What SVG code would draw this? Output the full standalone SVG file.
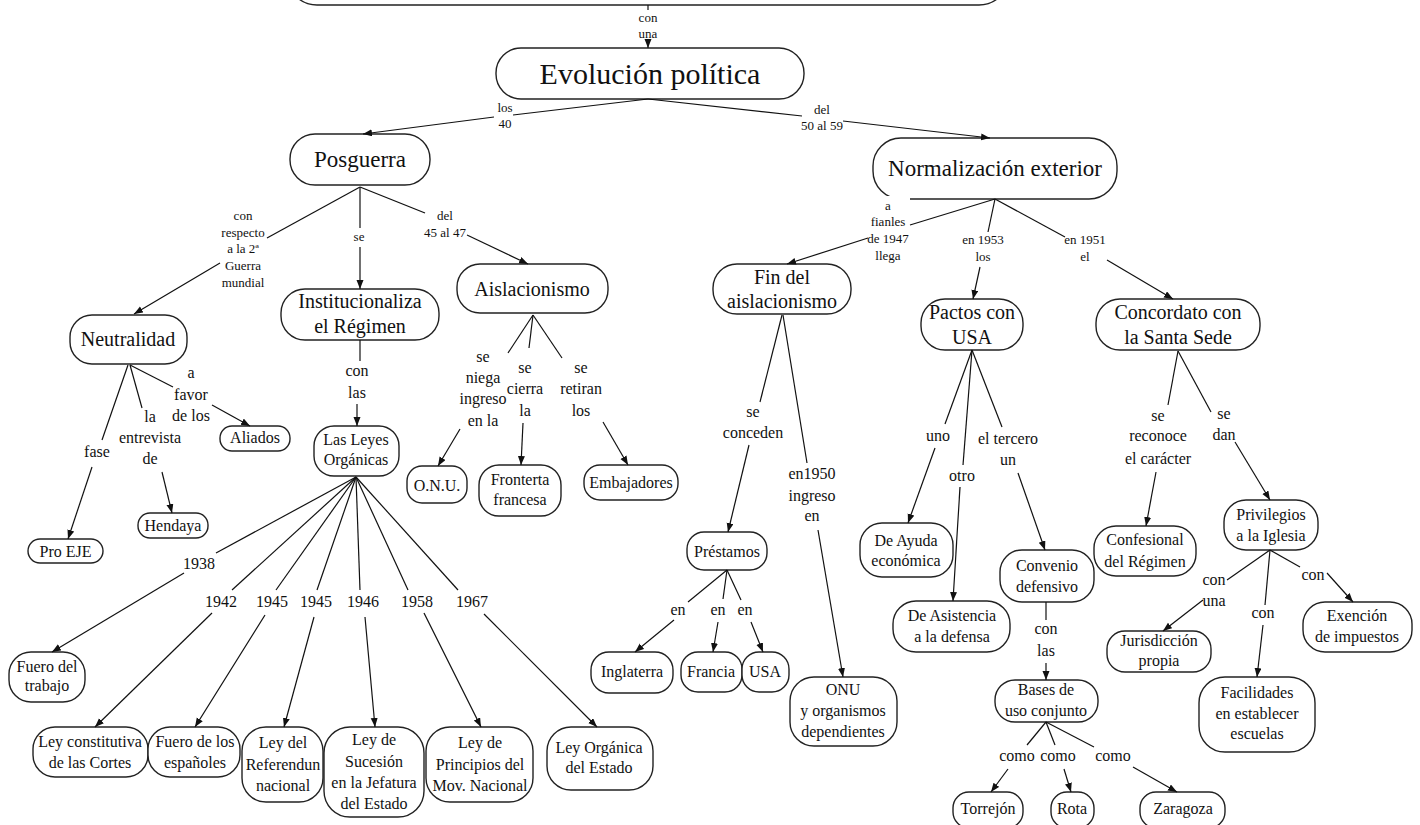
<svg xmlns="http://www.w3.org/2000/svg" width="1420" height="825" viewBox="0 0 1420 825">
<defs>
<marker id="ah" markerUnits="userSpaceOnUse" markerWidth="10" markerHeight="8" refX="9" refY="3.5" orient="auto">
<path d="M0,0 L9,3.5 L0,7 z" fill="#111"/>
</marker>
<style>
.n rect{fill:#fff;stroke:#222;stroke-width:1.4}
text{font-family:"Liberation Serif","Times New Roman",serif;fill:#111;text-anchor:middle}
.f30{font-size:30px}.f23{font-size:23px}.f20{font-size:20px}.f16{font-size:16px}.f13{font-size:13px}
#connectors line{stroke:#111;stroke-width:1.2;fill:none}
#connectors line.a{marker-end:url(#ah)}
.bg{fill:#fff}
</style>
</defs>
<rect width="1420" height="825" fill="#fff"/>

<!-- nodes -->
<g id="n-top" class="n"><rect x="287" y="-70" width="722" height="75" rx="30"/></g>
<g id="n-evolucion" class="n"><rect x="496" y="48" width="308" height="51" rx="25"/><text class="f30" x="650" y="84">Evolución política</text></g>
<g id="n-posguerra" class="n"><rect x="290" y="134" width="140" height="51" rx="25"/><text class="f23" x="360" y="167">Posguerra</text></g>
<g id="n-normalizacion" class="n"><rect x="873" y="138" width="244" height="61" rx="28"/><text class="f23" x="995" y="176">Normalización exterior</text></g>
<g id="n-neutralidad" class="n"><rect x="70" y="315" width="117" height="49" rx="22"/><text class="f20" x="128" y="346">Neutralidad</text></g>
<g id="n-institucionaliza" class="n"><rect x="281" y="289" width="158" height="51" rx="24"/><text class="f20" x="360" y="308">Institucionaliza</text><text class="f20" x="360" y="333">el Régimen</text></g>
<g id="n-aislacionismo" class="n"><rect x="457" y="264" width="151" height="49" rx="23"/><text class="f20" x="532" y="296">Aislacionismo</text></g>
<g id="n-findel" class="n"><rect x="713" y="264" width="138" height="50" rx="24"/><text class="f20" x="782" y="284">Fin del</text><text class="f20" x="782" y="308">aislacionismo</text></g>
<g id="n-pactos" class="n"><rect x="921" y="299" width="102" height="51" rx="24"/><text class="f20" x="972" y="319">Pactos con</text><text class="f20" x="972" y="344">USA</text></g>
<g id="n-concordato" class="n"><rect x="1096" y="299" width="164" height="51" rx="24"/><text class="f20" x="1178" y="319">Concordato con</text><text class="f20" x="1178" y="344">la Santa Sede</text></g>
<g id="n-proeje" class="n"><rect x="28" y="539" width="75" height="24" rx="12"/><text class="f16" x="65.5" y="557">Pro EJE</text></g>
<g id="n-hendaya" class="n"><rect x="138" y="513" width="70" height="25" rx="12"/><text class="f16" x="173" y="531">Hendaya</text></g>
<g id="n-aliados" class="n"><rect x="220" y="426" width="70" height="25" rx="12"/><text class="f16" x="255" y="443">Aliados</text></g>
<g id="n-lasleyes" class="n"><rect x="314" y="426" width="85" height="50" rx="20"/><text class="f16" x="356" y="445">Las Leyes</text><text class="f16" x="356" y="465">Orgánicas</text></g>
<g id="n-onu" class="n"><rect x="407" y="466" width="60" height="37" rx="15"/><text class="f16" x="437" y="491">O.N.U.</text></g>
<g id="n-fronterta" class="n"><rect x="479" y="465" width="82" height="51" rx="20"/><text class="f16" x="520" y="485">Fronterta</text><text class="f16" x="520" y="505">francesa</text></g>
<g id="n-embajadores" class="n"><rect x="584" y="465" width="94" height="35" rx="16"/><text class="f16" x="631" y="488">Embajadores</text></g>
<g id="n-prestamos" class="n"><rect x="687" y="532" width="80" height="38" rx="17"/><text class="f16" x="727" y="557">Préstamos</text></g>
<g id="n-onu-org" class="n"><rect x="790" y="677" width="107" height="69" rx="24"/><text class="f16" x="843" y="695">ONU</text><text class="f16" x="843" y="716">y organismos</text><text class="f16" x="843" y="737">dependientes</text></g>
<g id="n-inglaterra" class="n"><rect x="591" y="652" width="82" height="41" rx="18"/><text class="f16" x="632" y="677">Inglaterra</text></g>
<g id="n-francia" class="n"><rect x="681" y="652" width="61" height="40" rx="17"/><text class="f16" x="711" y="677">Francia</text></g>
<g id="n-usa" class="n"><rect x="742" y="652" width="47" height="40" rx="17"/><text class="f16" x="765" y="677">USA</text></g>
<g id="n-deayuda" class="n"><rect x="860" y="523" width="93" height="54" rx="22"/><text class="f16" x="906" y="546">De Ayuda</text><text class="f16" x="906" y="566">económica</text></g>
<g id="n-deasistencia" class="n"><rect x="893" y="601" width="117" height="51" rx="23"/><text class="f16" x="952" y="621">De Asistencia</text><text class="f16" x="952" y="642">a la defensa</text></g>
<g id="n-convenio" class="n"><rect x="1000" y="550" width="94" height="52" rx="22"/><text class="f16" x="1047" y="571">Convenio</text><text class="f16" x="1047" y="592">defensivo</text></g>
<g id="n-bases" class="n"><rect x="995" y="680" width="103" height="42" rx="20"/><text class="f16" x="1046" y="695">Bases de</text><text class="f16" x="1046" y="716">uso conjunto</text></g>
<g id="n-torrejon" class="n"><rect x="953" y="792" width="70" height="36" rx="16"/><text class="f16" x="988" y="814">Torrejón</text></g>
<g id="n-rota" class="n"><rect x="1051" y="792" width="43" height="36" rx="16"/><text class="f16" x="1072" y="814">Rota</text></g>
<g id="n-zaragoza" class="n"><rect x="1140" y="792" width="85" height="36" rx="16"/><text class="f16" x="1183" y="814">Zaragoza</text></g>
<g id="n-confesional" class="n"><rect x="1094" y="526" width="102" height="50" rx="22"/><text class="f16" x="1145" y="545">Confesional</text><text class="f16" x="1145" y="567">del Régimen</text></g>
<g id="n-privilegios" class="n"><rect x="1224" y="500" width="94" height="50" rx="22"/><text class="f16" x="1271" y="520">Privilegios</text><text class="f16" x="1271" y="541">a la Iglesia</text></g>
<g id="n-jurisdiccion" class="n"><rect x="1107" y="631" width="104" height="41" rx="18"/><text class="f16" x="1159" y="646">Jurisdicción</text><text class="f16" x="1159" y="666">propia</text></g>
<g id="n-exencion" class="n"><rect x="1303" y="602" width="109" height="50" rx="22"/><text class="f16" x="1357" y="621">Exención</text><text class="f16" x="1357" y="642">de impuestos</text></g>
<g id="n-facilidades" class="n"><rect x="1199" y="677" width="116" height="75" rx="26"/><text class="f16" x="1257" y="698">Facilidades</text><text class="f16" x="1257" y="719">en establecer</text><text class="f16" x="1257" y="739">escuelas</text></g>
<g id="n-fuerotrabajo" class="n"><rect x="9" y="652" width="76" height="50" rx="22"/><text class="f16" x="47" y="672">Fuero del</text><text class="f16" x="47" y="691">trabajo</text></g>
<g id="n-leyconstitutiva" class="n"><rect x="33" y="727" width="115" height="50" rx="22"/><text class="f16" x="90" y="747">Ley constitutiva</text><text class="f16" x="90" y="768">de las Cortes</text></g>
<g id="n-fueroesp" class="n"><rect x="148" y="727" width="92" height="50" rx="22"/><text class="f16" x="195" y="747">Fuero de los</text><text class="f16" x="195" y="768">españoles</text></g>
<g id="n-referendun" class="n"><rect x="242" y="727" width="81" height="75" rx="24"/><text class="f16" x="283" y="748">Ley del</text><text class="f16" x="283" y="770">Referendun</text><text class="f16" x="283" y="791">nacional</text></g>
<g id="n-sucesion" class="n"><rect x="324" y="727" width="100" height="90" rx="26"/><text class="f16" x="374" y="745">Ley de</text><text class="f16" x="374" y="767">Sucesión</text><text class="f16" x="374" y="788">en la Jefatura</text><text class="f16" x="374" y="809">del Estado</text></g>
<g id="n-principios" class="n"><rect x="426" y="727" width="107" height="75" rx="24"/><text class="f16" x="480" y="748">Ley de</text><text class="f16" x="480" y="770">Principios del</text><text class="f16" x="480" y="791">Mov. Nacional</text></g>
<g id="n-leyorganica" class="n"><rect x="547" y="727" width="106" height="63" rx="24"/><text class="f16" x="599" y="753">Ley Orgánica</text><text class="f16" x="599" y="773">del Estado</text></g>

<!-- connectors -->
<g id="connectors">
<line x1="648" y1="5" x2="648" y2="10"/><text class="f13" x="648" y="22">con</text><text class="f13" x="648" y="38">una</text><line class="a" x1="648" y1="41" x2="648" y2="48"/>
<line x1="648" y1="99" x2="513" y2="115"/><text class="f13" x="505" y="112">los</text><text class="f13" x="505" y="128">40</text><line class="a" x1="494" y1="117" x2="363" y2="134"/>
<line x1="648" y1="99" x2="802" y2="116"/><text class="f13" x="822" y="114">del</text><text class="f13" x="822" y="130">50 al 59</text><line class="a" x1="843" y1="121" x2="990" y2="138"/>
<line x1="360" y1="187" x2="267" y2="238"/><text class="f13" x="243" y="220">con</text><text class="f13" x="243" y="237">respecto</text><text class="f13" x="243" y="253">a la 2ª</text><text class="f13" x="243" y="270">Guerra</text><text class="f13" x="243" y="287">mundial</text><line class="a" x1="220" y1="263" x2="134" y2="314"/>
<line x1="360" y1="187" x2="360" y2="228"/><text class="f13" x="359" y="241">se</text><line class="a" x1="360" y1="247" x2="360" y2="289"/>
<line x1="360" y1="187" x2="425" y2="213"/><text class="f13" x="445" y="220">del</text><text class="f13" x="445" y="237">45 al 47</text><line class="a" x1="467" y1="235" x2="528" y2="264"/>
<rect class="bg" x="872" y="196" width="38" height="6"/>
<line x1="995" y1="199" x2="910" y2="225"/><text class="f13" x="888" y="210">a</text><text class="f13" x="888" y="226">fianles</text><text class="f13" x="888" y="243">de 1947</text><text class="f13" x="888" y="260">llega</text><line class="a" x1="868" y1="238" x2="787" y2="264"/>
<line x1="995" y1="199" x2="988" y2="232"/><text class="f13" x="983" y="244">en 1953</text><text class="f13" x="983" y="261">los</text><line class="a" x1="980" y1="267" x2="973" y2="299"/>
<line x1="995" y1="199" x2="1065" y2="237"/><text class="f13" x="1085" y="244">en 1951</text><text class="f13" x="1085" y="261">el</text><line class="a" x1="1107" y1="260" x2="1173" y2="299"/>
<line x1="128" y1="365" x2="102" y2="440"/><text class="f16" x="97" y="457">fase</text><line class="a" x1="92" y1="467" x2="68" y2="539"/>
<line x1="130" y1="365" x2="142" y2="408"/><text class="f16" x="150" y="422">la</text><text class="f16" x="150" y="443">entrevista</text><text class="f16" x="150" y="464">de</text><line class="a" x1="162" y1="472" x2="172" y2="513"/>
<line x1="130" y1="365" x2="173" y2="387"/><text class="f16" x="191" y="378">a</text><text class="f16" x="191" y="400">favor</text><text class="f16" x="191" y="421">de los</text><line class="a" x1="212" y1="405" x2="250" y2="426"/>
<line x1="360" y1="340" x2="360" y2="361"/><text class="f16" x="357" y="376">con</text><text class="f16" x="357" y="398">las</text><line class="a" x1="357" y1="404" x2="357" y2="426"/>
<line x1="533" y1="315" x2="508" y2="353"/><text class="f16" x="483" y="362">se</text><text class="f16" x="483" y="383">niega</text><text class="f16" x="483" y="404">ingreso</text><text class="f16" x="483" y="426">en la</text><line class="a" x1="460" y1="429" x2="438" y2="466"/>
<line x1="533" y1="315" x2="529" y2="348"/><text class="f16" x="525" y="373">se</text><text class="f16" x="525" y="394">cierra</text><text class="f16" x="525" y="416">la</text><line class="a" x1="523" y1="423" x2="521" y2="465"/>
<line x1="533" y1="315" x2="562" y2="358"/><text class="f16" x="581" y="373">se</text><text class="f16" x="581" y="394">retiran</text><text class="f16" x="581" y="416">los</text><line class="a" x1="603" y1="422" x2="628" y2="465"/>
<line x1="782" y1="315" x2="760" y2="402"/><text class="f16" x="753" y="417">se</text><text class="f16" x="753" y="438">conceden</text><line class="a" x1="749" y1="445" x2="728" y2="532"/>
<line x1="783" y1="315" x2="807" y2="463"/><text class="f16" x="812" y="479">en1950</text><text class="f16" x="812" y="501">ingreso</text><text class="f16" x="812" y="521">en</text><line class="a" x1="818" y1="530" x2="843" y2="677"/>
<line x1="972" y1="350" x2="945" y2="424"/><text class="f16" x="938" y="441">uno</text><line class="a" x1="935" y1="448" x2="908" y2="523"/>
<line x1="972" y1="350" x2="963" y2="465"/><text class="f16" x="962" y="481">otro</text><line class="a" x1="960" y1="487" x2="953" y2="601"/>
<line x1="972" y1="350" x2="1002" y2="427"/><text class="f16" x="1008" y="444">el tercero</text><text class="f16" x="1008" y="465">un</text><line class="a" x1="1018" y1="473" x2="1045" y2="550"/>
<line x1="1178" y1="351" x2="1168" y2="405"/><text class="f16" x="1158" y="421">se</text><text class="f16" x="1158" y="441">reconoce</text><text class="f16" x="1158" y="464">el carácter</text><line class="a" x1="1156" y1="472" x2="1146" y2="526"/>
<line x1="1178" y1="351" x2="1211" y2="412"/><text class="f16" x="1224" y="419">se</text><text class="f16" x="1224" y="440">dan</text><line class="a" x1="1235" y1="442" x2="1270" y2="500"/>
<line x1="1046" y1="602" x2="1046" y2="620"/><text class="f16" x="1046" y="634">con</text><text class="f16" x="1046" y="656">las</text><line class="a" x1="1046" y1="663" x2="1046" y2="680"/>
<line x1="1046" y1="722" x2="1027" y2="745"/><text class="f16" x="1017" y="761">como</text><line class="a" x1="1008" y1="769" x2="991" y2="792"/>
<line x1="1046" y1="722" x2="1055" y2="745"/><text class="f16" x="1058" y="761">como</text><line class="a" x1="1064" y1="769" x2="1071" y2="792"/>
<line x1="1046" y1="722" x2="1094" y2="747"/><text class="f16" x="1113" y="761">como</text><line class="a" x1="1133" y1="767" x2="1177" y2="792"/>
<line x1="1270" y1="550" x2="1227" y2="580"/><text class="f16" x="1214" y="585">con</text><text class="f16" x="1214" y="606">una</text><line class="a" x1="1203" y1="600" x2="1163" y2="631"/>
<line x1="1270" y1="550" x2="1265" y2="605"/><text class="f16" x="1263" y="618">con</text><line class="a" x1="1263" y1="625" x2="1257" y2="677"/>
<line x1="1270" y1="550" x2="1300" y2="567"/><text class="f16" x="1313" y="580">con</text><line class="a" x1="1327" y1="573" x2="1353" y2="602"/>
<line x1="356" y1="477" x2="216" y2="553"/><text class="f16" x="199" y="569">1938</text><line class="a" x1="184" y1="573" x2="52" y2="652"/>
<line x1="356" y1="477" x2="232" y2="590"/><text class="f16" x="221" y="607">1942</text><line class="a" x1="212" y1="613" x2="95" y2="727"/>
<line x1="356" y1="477" x2="276" y2="590"/><text class="f16" x="272" y="607">1945</text><line class="a" x1="265" y1="615" x2="195" y2="727"/>
<line x1="356" y1="477" x2="317" y2="590"/><text class="f16" x="316" y="607">1945</text><line class="a" x1="314" y1="617" x2="284" y2="727"/>
<line x1="356" y1="477" x2="360" y2="590"/><text class="f16" x="363" y="607">1946</text><line class="a" x1="365" y1="617" x2="375" y2="727"/>
<line x1="356" y1="477" x2="408" y2="590"/><text class="f16" x="417" y="607">1958</text><line class="a" x1="424" y1="613" x2="481" y2="727"/>
<line x1="356" y1="477" x2="458" y2="590"/><text class="f16" x="472" y="607">1967</text><line class="a" x1="484" y1="614" x2="597" y2="727"/>
<line x1="727" y1="570" x2="688" y2="602"/><text class="f16" x="678" y="615">en</text><line class="a" x1="674" y1="620" x2="635" y2="652"/>
<line x1="727" y1="570" x2="723" y2="599"/><text class="f16" x="718" y="615">en</text><line class="a" x1="718" y1="622" x2="713" y2="652"/>
<line x1="727" y1="570" x2="741" y2="600"/><text class="f16" x="745" y="615">en</text><line class="a" x1="751" y1="622" x2="763" y2="652"/>
</g>
</svg>
